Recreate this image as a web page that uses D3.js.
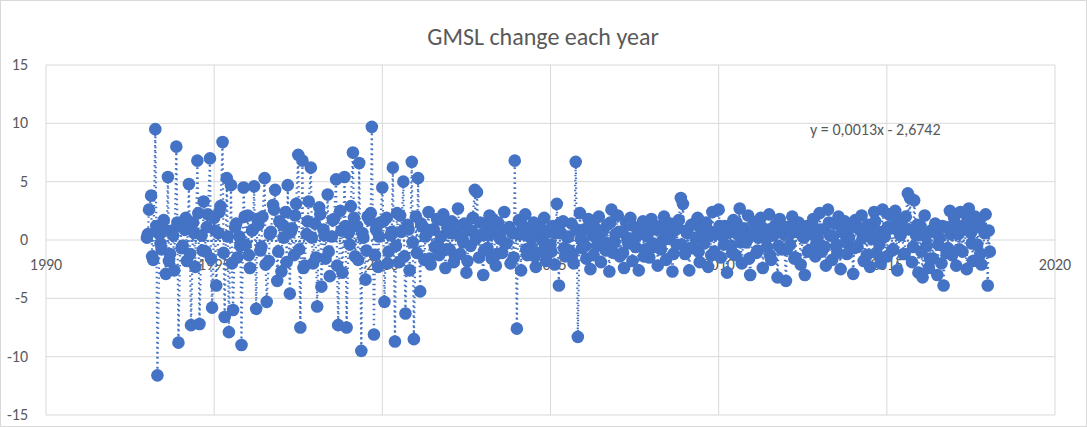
<!DOCTYPE html>
<html><head><meta charset="utf-8">
<script src="https://cdn.jsdelivr.net/npm/d3@7"></script>
<style>body{margin:0;background:#fff}svg{font-family:Calibri,Carlito,"Open Sans",sans-serif}</style>
</head><body><svg id="c" width="1087" height="427"></svg>
<script>
const title = "GMSL change each year";
const equation = "y = 0,0013x - 2,6742";
const xTicks = [1990,1995,2000,2005,2010,2015,2020];
const yTicks = [-15,-10,-5,0,5,10,15];
const startYear = 1993.0;
const stepYears = 1/16;
const startYearB = 1993.03;
const stepYearsB = 1/8;
const trendSlope = 0.0013, trendIntercept = -2.6742;
const values = [
0.2,2.6,3.8,-1.7,9.5,-11.6,0.5,-0.8,1.7,-2.9,5.4,-1.2,0.8,-2.6,8.0,-8.8,
1.2,-0.5,0.9,-1.8,4.8,-7.3,1.5,-2.3,6.8,-7.2,0.4,3.3,-1.0,2.2,7.0,-5.8,
1.9,-3.9,0.6,2.9,8.4,-6.6,5.3,-7.9,4.7,-6.0,1.1,-1.5,0.3,-9.0,4.5,-0.4,
2.1,-2.4,0.8,4.6,-5.9,1.3,-0.9,2.0,5.3,-5.3,-1.8,0.7,3.0,4.3,-3.5,1.6,
-2.7,0.2,2.4,4.7,-4.6,1.0,-1.3,3.1,7.3,-7.5,6.8,-2.2,0.5,3.3,6.2,-2.0,
1.4,-5.7,2.8,-4.0,0.9,-1.6,3.9,-3.1,0.3,1.8,5.2,-7.3,2.5,-2.8,5.4,-7.5,
0.6,2.9,7.5,-1.4,1.2,6.6,-9.5,0.2,-3.4,2.0,1.7,9.7,-8.1,0.9,-2.3,1.5,
4.5,-5.3,1.9,-1.0,0.4,6.2,-8.7,2.3,-1.9,0.7,5.0,-6.3,1.3,-2.6,6.7,-8.5,
2.0,5.3,-4.4,1.2,-1.7,0.5,2.4,-2.1,0.9,-0.6,1.8,-1.3,0.3,2.2,-2.4,1.0,
-0.8,1.6,-1.9,0.6,2.7,-1.2,0.2,1.4,-2.8,0.9,-0.5,1.9,4.3,4.1,-1.5,0.4,
-3.0,1.3,-0.7,2.1,-1.6,0.8,-2.2,1.5,0.1,-1.1,2.4,-0.3,1.0,-2.0,0.6,6.8,
-7.6,1.7,-2.6,0.5,2.2,-1.3,0.9,-0.6,1.5,-2.3,0.3,1.1,-1.0,1.9,-1.8,0.7,
-0.4,1.2,-2.1,3.1,-3.9,0.6,1.6,-1.4,0.2,-0.9,1.4,-2.0,6.7,-8.3,2.3,-0.7,
0.9,-1.6,1.8,-2.5,0.4,1.1,-0.5,2.0,-1.9,0.8,-0.2,1.3,-2.7,2.6,-1.1,0.5,
2.1,-1.4,0.7,-2.4,1.5,-0.3,1.9,-1.8,0.2,1.0,-2.6,0.6,1.6,-0.8,0.3,-1.5,
1.8,-0.6,0.9,-2.2,1.2,-0.1,2.0,-1.7,0.5,1.4,-2.7,0.8,-0.4,1.7,3.6,3.1,
-1.2,0.6,-2.6,1.3,-0.7,0.2,1.9,-1.9,0.9,-0.3,1.5,-2.3,0.4,2.4,-1.0,0.7,
2.6,-1.5,0.3,1.2,-2.8,0.8,-0.5,1.7,-1.3,0.5,2.7,-2.0,1.0,-0.2,2.1,-3.0,
0.6,1.5,-1.1,0.2,1.9,-2.4,0.9,-0.6,2.2,-1.7,0.4,1.3,-3.2,1.8,-0.8,0.5,
-3.5,1.1,-0.4,2.0,-1.6,0.7,1.5,-2.1,0.3,-3.0,1.2,-0.9,0.6,1.8,-1.4,0.1,
2.3,-1.0,0.9,-2.2,2.6,0.4,-1.7,1.4,-0.5,2.0,-2.5,0.8,1.6,-1.2,0.2,1.1,
-2.9,1.7,-0.6,0.9,2.1,-1.8,0.5,1.3,-2.3,0.1,2.4,-1.1,0.7,-2.0,2.6,0.3,
-1.4,2.2,1.0,-0.8,2.5,-2.6,0.6,1.5,-1.2,2.0,4.0,3.6,-1.9,3.4,0.4,-2.8,
1.2,-3.2,2.1,-0.5,-2.4,0.8,-1.6,1.4,-3.0,0.2,-2.0,-3.9,1.1,-0.7,2.5,-1.3,
1.9,-2.2,0.5,2.4,-1.0,1.3,-2.5,2.7,0.6,-1.8,2.0,-0.4,1.6,-2.1,0.9,2.2,
-3.9,-1.0
];
const valuesB = [
0.5,-1.4,1.2,-0.3,0.9,-1.8,0.4,1.5,
-0.7,1.9,-1.2,0.6,2.3,-0.9,1.1,-1.6,
0.8,2.4,-1.1,0.3,-2.0,1.4,-0.5,2.0,
-1.3,0.9,1.8,-0.6,-2.1,0.5,2.6,-1.0,
1.3,-1.9,0.7,2.1,-0.8,-2.4,1.6,0.2,
-1.5,2.2,0.4,-1.0,1.7,-2.2,0.8,1.2,
-0.4,1.9,-1.7,0.6,-0.9,2.3,-1.3,0.3,
1.6,-2.0,0.7,-0.5,2.1,-1.4,0.9,-0.2,
-1.1,1.4,0.3,-1.6,0.9,-0.4,1.7,-0.8,
0.6,-1.3,1.2,-0.2,-1.8,0.8,0.1,1.5,
-0.9,0.4,1.8,-1.2,0.7,-0.3,1.1,-1.5,
0.5,1.3,-0.8,0.2,-1.4,1.0,-0.1,0.8,
-1.0,0.6,1.4,-0.7,0.3,-1.2,0.9,0.1,
-0.5,1.2,-1.3,0.4,0.8,-0.9,1.5,-0.2,
0.7,-1.1,0.2,1.3,-0.6,0.5,-1.4,0.9,
-0.3,1.1,-0.8,0.6,0.1,-1.2,1.0,-0.4,
0.8,-0.7,1.4,-1.0,0.3,0.9,-1.3,0.5,
1.2,-0.4,0.6,-1.1,1.5,-0.2,0.8,-1.6,
0.4,-0.9,1.1,0.1,-1.3,0.7,-0.5,1.2,
-0.8,0.6,-1.5,0.9,0.2,-1.0,1.3,-0.3,
0.9,-0.6,1.5,0.3,-1.1,0.7,-0.2,1.2,
-0.7,1.0,0.2,-1.3,0.8,1.6,-0.4,0.5,
1.1,-0.9,1.7,0.4,-1.2,0.9,-0.6,1.3,
-1.0,0.3,-1.6,0.7,-0.4,1.2,-1.1,0.5,
1.4,-0.8,0.9,1.8,-0.3,1.1,-1.2,0.6,
0.8
];
const data = values.map((v,i)=>({x:startYear+i*stepYears,y:v}))
  .concat(valuesB.map((v,i)=>({x:startYearB+i*stepYearsB,y:v})))
  .sort((a,b)=>a.x-b.x);
const svg = d3.select("#c");
const blue="#4472C4", grid="#d9d9d9", txt="#595959";
svg.append("rect").attr("x",0.5).attr("y",0.5).attr("width",1086).attr("height",426).attr("fill","#fff").attr("stroke",grid);
const x = d3.scaleLinear().domain([1990,2020]).range([46,1055]);
const y = d3.scaleLinear().domain([-15,15]).range([415,65]);
const g = svg.append("g");
g.selectAll(".hg").data(yTicks).join("line").attr("x1",x(1990)).attr("x2",x(2020))
 .attr("y1",d=>y(d)).attr("y2",d=>y(d)).attr("stroke",grid).attr("stroke-width",1);
g.selectAll(".vg").data(xTicks).join("line").attr("y1",y(15)).attr("y2",y(-15))
 .attr("x1",d=>x(d)).attr("x2",d=>x(d)).attr("stroke",grid).attr("stroke-width",1);
svg.append("g").selectAll("text").data(yTicks).join("text").attr("x",x(1990)-18).attr("y",d=>y(d)+5)
 .attr("text-anchor","end").attr("fill",txt).attr("font-size",16).text(d=>d);
svg.append("g").selectAll("text").data(xTicks).join("text").attr("x",d=>x(d)).attr("y",y(0)+30)
 .attr("text-anchor","middle").attr("fill",txt).attr("font-size",16).text(d=>d);
svg.append("path").datum(data).attr("d",d3.line().x(d=>x(d.x)).y(d=>y(d.y)))
 .attr("fill","none").attr("stroke",blue).attr("stroke-width",2.2).attr("stroke-dasharray","1.5,3.5");
svg.append("g").selectAll("circle").data(data).join("circle").attr("cx",d=>x(d.x)).attr("cy",d=>y(d.y))
 .attr("r",6.3).attr("fill",blue);
const tx=[startYear, startYear+(values.length-1)*stepYears];
svg.append("line").attr("x1",x(tx[0])).attr("x2",x(tx[1]))
 .attr("y1",y(trendSlope*tx[0]+trendIntercept)).attr("y2",y(trendSlope*tx[1]+trendIntercept))
 .attr("stroke",blue).attr("stroke-width",2).attr("stroke-dasharray","2,2");
svg.append("text").attr("x",543).attr("y",45).attr("text-anchor","middle").attr("fill",txt).attr("font-size",24).text(title);
svg.append("text").attr("x",810).attr("y",135).attr("fill",txt).attr("font-size",16).text(equation);
</script></body></html>
